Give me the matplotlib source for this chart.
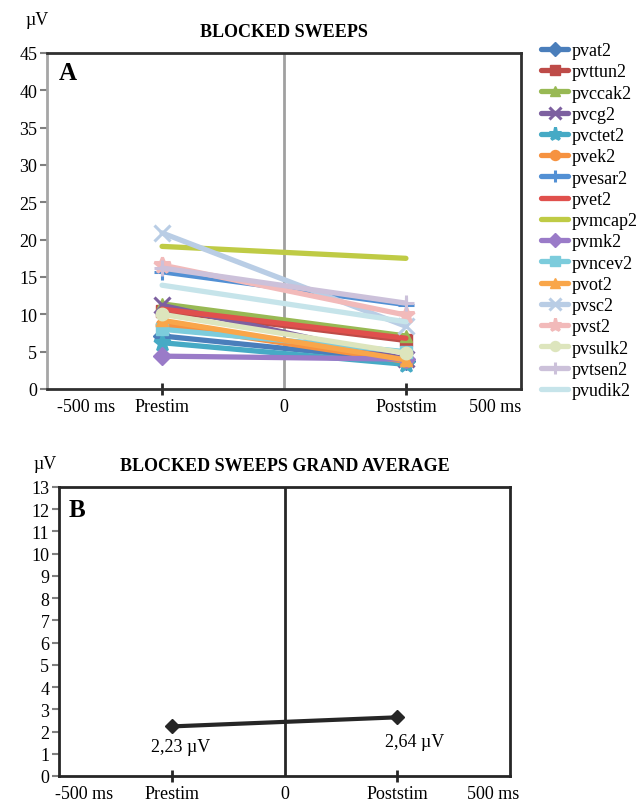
import matplotlib
matplotlib.use("Agg")
import matplotlib.pyplot as plt

plt.rcParams['font.family'] = ['Liberation Serif', 'DejaVu Serif']

# ---------------- data ----------------
series_names = ["pvat2", "pvttun2", "pvccak2", "pvcg2", "pvctet2", "pvek2", "pvesar2",
                "pvet2", "pvmcap2", "pvmk2", "pvncev2", "pvot2", "pvsc2", "pvst2",
                "pvsulk2", "pvtsen2", "pvudik2"]
prestim_vals = [7.1, 10.5, 11.4, 11.2, 6.2, 8.6, 15.7, 10.7, 19.1, 4.4, 8.0, 9.2, 20.9, 16.6, 10.0, 16.2, 13.9]
poststim_vals = [3.8, 6.5, 7.1, 4.0, 3.3, 3.7, 11.3, 6.8, 17.5, 4.0, 5.0, 3.9, 8.4, 9.9, 4.8, 11.5, 9.0]
series_colors = ["#4A7EBB", "#BE4B48", "#98B954", "#7D60A0", "#46AAC5", "#F69240", "#5290D4",
                 "#E0504D", "#BFCB45", "#9A7BC8", "#7CCCDC", "#F9A64A", "#B9CDE5", "#F2BABA",
                 "#DDE5BD", "#CCC1DA", "#C6E4EA"]
series_markers = ["D", "s", "^", "x", "*", "o", "+", None, None, "D", "s", "^", "x", "*", "o", "+", None]

avg_vals = [2.23, 2.64]
avg_labels = ["2,23 µV", "2,64 µV"]

cat_labels = ["Prestim", "Poststim"]
cat_pos = [-250, 250]
extra_labels = ["-500 ms", "0", "500 ms"]

# ---------------- figure ----------------
fig = plt.figure(figsize=(6.44, 8.03), dpi=100)
W, H = 644, 803

def axrect(l, t, r, b):
    return [l / W, 1 - b / H, (r - l) / W, (b - t) / H]

dark = "#262626"
FS = 13

# ----- Panel A -----
axA = fig.add_axes(axrect(47, 54, 521, 390))
for name, pre, post, c, m in zip(series_names, prestim_vals, poststim_vals, series_colors, series_markers):
    ms = 9 if m in ("D", "s", "^", "o") else 11
    mew = 2.2 if m in ("x", "+", "*") else 1
    if m == "*":
        ms = 12
    axA.plot(cat_pos, [pre, post], color=c, lw=3.8, marker=m, ms=ms, mew=mew,
             solid_capstyle="round", label=name, zorder=3)
axA.set_xlim(-486, 486)
axA.set_ylim(0, 45)
axA.set_yticks(range(0, 46, 5))
axA.axvline(0, color="#A0A0A0", lw=2, zorder=1)
axA.spines['left'].set_color("#A6A6A6")
axA.spines['left'].set_linewidth(2)
for s in ("top", "right", "bottom"):
    axA.spines[s].set_color("#303030")
    axA.spines[s].set_linewidth(2)
axA.text(0.025, 0.976, "A", transform=axA.transAxes, fontsize=18, fontweight="bold", va="top", ha="left")
axA.text(0.5, 1.0625, "BLOCKED SWEEPS", transform=axA.transAxes, fontsize=13, fontweight="bold",
         ha="center", va="center")
axA.text(-0.02, 1.1, "µV", transform=axA.transAxes, fontsize=FS, ha="center", va="center")

# ----- Panel B -----
axB = fig.add_axes(axrect(59, 488, 510, 777))
axB.plot(cat_pos, avg_vals, color=dark, lw=3, marker="D", ms=7, zorder=3)
axB.set_xlim(-500, 500)
axB.set_ylim(0, 13)
axB.set_yticks(range(0, 14))
axB.axvline(0, color=dark, lw=2, zorder=1)
for s in axB.spines.values():
    s.set_color(dark)
    s.set_linewidth(2)
for xp, v, lab, dx, dy in zip(cat_pos, avg_vals, avg_labels, [20, 39], [-0.91, -1.07]):
    axB.text(xp + dx, v + dy, lab, fontsize=FS, ha="center", va="center")
axB.text(0.022, 0.962, "B", transform=axB.transAxes, fontsize=18, fontweight="bold", va="top", ha="left")
axB.text(0.5, 1.076, "BLOCKED SWEEPS GRAND AVERAGE", transform=axB.transAxes, fontsize=13,
         fontweight="bold", ha="center", va="center")
axB.text(-0.03, 1.08, "µV", transform=axB.transAxes, fontsize=FS, ha="center", va="center")

# ----- shared axis styling -----
extra_posA = [-406, 0, 432]
extra_posB = [-444, 0, 462]
for ax, extra_pos in ((axA, extra_posA), (axB, extra_posB)):
    ax.set_xticks(cat_pos)
    ax.set_xticklabels(cat_labels)
    ax.set_xticks(extra_pos, minor=True)
    ax.set_xticklabels(extra_labels, minor=True)
    ax.tick_params(axis="x", which="major", direction="inout", length=9, width=2, color=dark,
                   labelsize=FS, pad=2)
    ax.tick_params(axis="x", which="minor", length=0, labelsize=FS, pad=6.5)
    ax.tick_params(axis="y", direction="out", length=5, width=1.5, color="#808080", labelsize=FS, pad=2)

# ----- legend -----
handles, labels = axA.get_legend_handles_labels()
fig.legend(handles, labels, loc="upper left", bbox_to_anchor=(534 / W, 1 - 36 / H),
           frameon=False, fontsize=13, handlelength=1.5, handletextpad=0.2,
           labelspacing=0.235, borderaxespad=0, markerscale=0.8)

fig.savefig("out.png", dpi=100)
